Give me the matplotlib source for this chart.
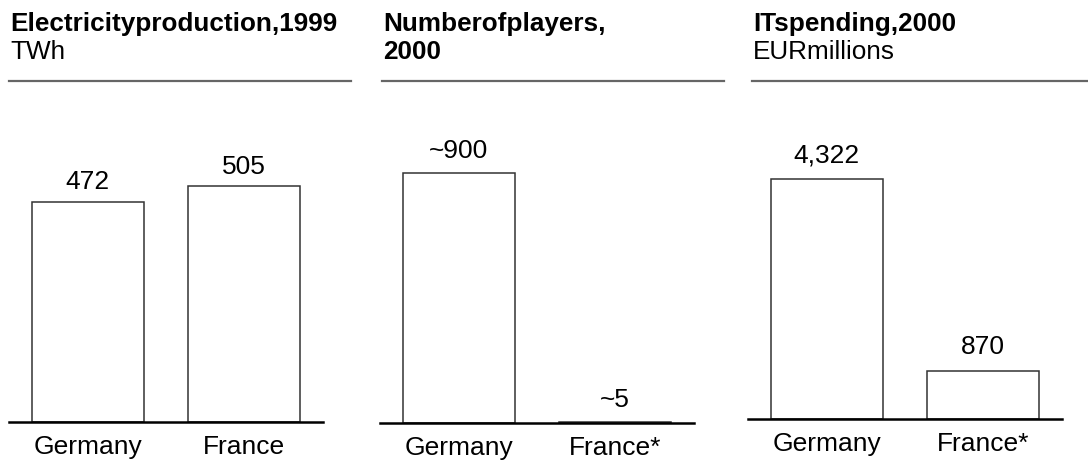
import matplotlib
matplotlib.use("Agg")
import matplotlib.pyplot as plt

plt.rcParams["font.family"] = ["Liberation Sans", "DejaVu Sans"]

# Data
countries = ["Germany", "France"]
countries_starred = ["Germany", "France*"]

electricity_twh = [472, 505]
electricity_labels = ["472", "505"]

players = [900, 5]
players_labels = ["~900", "~5"]

it_spending = [4322, 870]
it_spending_labels = ["4,322", "870"]

titles = ["Electricityproduction,1999", "Numberofplayers,\n2000", "ITspending,2000"]
subtitles = ["TWh", "", "EURmillions"]

W, H = 1088, 462
DPI = 100
fig = plt.figure(figsize=(W / DPI, H / DPI), dpi=DPI)
fig.patch.set_facecolor("white")

FS = 19
FS_TITLE = 18.8


def px_x(x):
    return x / W


def px_y(y):
    return 1 - y / H


panels = [
    # (left px, baseline px, ylim top, label gap pt, values, value labels, categories, title, subtitle, rule left, rule right)
    (9, 421.7, 690, 9, electricity_twh, electricity_labels, countries, titles[0], subtitles[0], 9, 351),
    (380, 423.3, 1164, 11, players, players_labels, countries_starred, titles[1], subtitles[1], 382, 724),
    (748, 419.0, 5752, 12, it_spending, it_spending_labels, countries_starred, titles[2], subtitles[2], 752, 1088),
]

AX_W = 314
TOP = 100

for left, base, ytop, gap, vals, labels, cats, title, sub, rl, rr in panels:
    ax = fig.add_axes([px_x(left), (H - base) / H, AX_W / W, (base - TOP) / H])
    ax.set_xlim(-0.505, 1.505)
    ax.set_ylim(0, ytop)
    xs = range(len(vals))
    ax.bar(xs, vals, width=0.72, color="white", edgecolor="#333333", linewidth=1.1, zorder=2)
    ax.axhline(0, color="black", linewidth=1.8, zorder=3, clip_on=False)
    for x, v, lab in zip(xs, vals, labels):
        ax.annotate(lab, (x, v), xytext=(0, gap), textcoords="offset points",
                    ha="center", va="baseline", fontsize=FS, color="black")
    for x, c in zip(xs, cats):
        ax.annotate(c, (x, 0), xytext=(0, -23), textcoords="offset points",
                    ha="center", va="baseline", fontsize=FS, color="black",
                    annotation_clip=False)
    ax.axis("off")

    # Header block
    lines = title.split("\n")
    fig.text(px_x(rl + 1), px_y(31.5), lines[0], fontsize=FS_TITLE, fontweight="bold",
             ha="left", va="baseline", color="black")
    if len(lines) > 1:
        fig.text(px_x(rl + 1), px_y(59), lines[1], fontsize=FS_TITLE, fontweight="bold",
                 ha="left", va="baseline", color="black")
    if sub:
        fig.text(px_x(rl + 1), px_y(59), sub, fontsize=FS_TITLE,
                 ha="left", va="baseline", color="black")
    fig.add_artist(plt.Line2D([px_x(rl), px_x(rr)], [px_y(81), px_y(81)],
                              color="#666666", linewidth=1.6))

fig.savefig("out.png", dpi=DPI, facecolor="white")
